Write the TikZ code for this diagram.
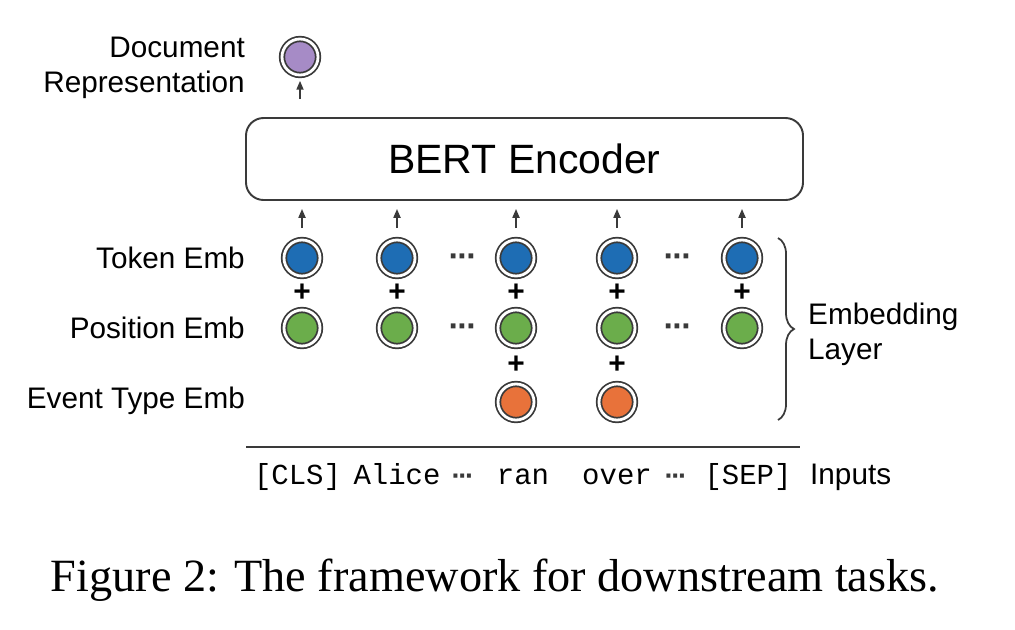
\documentclass[tikz,border=0pt]{standalone}
\usepackage{fontspec}
\setmainfont{Liberation Sans}
\setmonofont{Liberation Mono}
\newfontfamily\capfont{Liberation Serif}
\usepackage{tikz}
\usetikzlibrary{arrows.meta,positioning,decorations.pathreplacing}
\definecolor{embblue}{HTML}{1E6DB4}
\definecolor{embgreen}{HTML}{6BAD4B}
\definecolor{emborange}{HTML}{E8723A}
\definecolor{embpurple}{HTML}{A68BC6}
\definecolor{ringgray}{HTML}{3A3A3A}
\newcommand{\lblfont}{\fontsize{16.9}{20}\selectfont}
\newcommand{\mdots}[1]{\textbf{·\kern#1·\kern#1·}}

\begin{document}
\begin{tikzpicture}[
  emb/.style={circle, draw=ringgray, double=white, double distance=1.6pt,
    line width=1pt, minimum size=0.72cm, inner sep=0pt},
  lbl/.style={font=\lblfont, anchor=east},
  plus/.style={font=\fontsize{17}{17}\selectfont\bfseries, inner sep=0pt},
  rowdots/.style={font=\fontsize{19}{19}\selectfont, inner sep=0pt, anchor=north, ringgray},
  indots/.style={font=\fontsize{16}{16}\selectfont, inner sep=0pt, anchor=north, ringgray},
  word/.style={font=\fontsize{16.5}{17}\selectfont\ttfamily, anchor=base},
  arr/.style={-{Triangle[length=5pt,width=4pt]}, line width=0.9pt, ringgray}
]
  \useasboundingbox (0,0) rectangle (20.3,-12.58);

  % encoder and output
  \node[draw=ringgray, line width=1.1pt, rounded corners=10pt,
    minimum width=11.14cm, minimum height=1.64cm,
    font=\fontsize{23.3}{23}\selectfont] (enc) at (10.49,-3.18) {BERT Encoder};
  \node[emb, fill=embpurple] (doc) at (6.0,-1.14) {};
  \draw[arr, shorten <=0.36cm, shorten >=0.1cm] (enc.north -| doc) -- (doc);

  % embedding columns
  \foreach \i/\x in {1/6.04, 2/7.94, 3/10.32, 4/12.34, 5/14.84} {
    \node[emb, fill=embblue] (tok\i) at (\x,-5.16) {};
    \node[emb, fill=embgreen] (pos\i) at (\x,-6.56) {};
    \node[plus] at (\x,-5.86) {+};
    \draw[arr, shorten <=0.22cm, shorten >=0.16cm] (tok\i) -- (tok\i |- enc.south);
  }
  \foreach \i in {3,4} {
    \node[emb, fill=emborange] (evt\i) at (pos\i |- 0,-8.04) {};
    \node[plus] at (pos\i |- 0,-7.30) {+};
  }
  \foreach \x in {9.26, 13.56} {
    \node[rowdots] at (\x,-5.07) {\mdots{-1.3pt}};
    \node[rowdots] at (\x,-6.47) {\mdots{-1.3pt}};
  }

  % row labels
  \node[lbl, align=right] (doclbl) at (5.02,-1.35) {Document\\Representation};
  \node[lbl] (toklbl) at (5.02,-5.16) {Token Emb};
  \node[lbl] (poslbl) at (5.02,-6.56) {Position Emb};
  \node[lbl] (evtlbl) at (5.02,-8.02) {Event Type Emb};

  \draw[decorate, decoration={brace, amplitude=0.32cm}, line width=1pt, ringgray]
    (15.56,-4.76) -- (15.56,-8.4);
  \node[font=\lblfont, anchor=west, align=left] (emblbl) at (16.04,-6.68)
    {Embedding\\Layer};

  % inputs
  \draw[line width=1.1pt, ringgray] (4.92,-8.94) -- (16.0,-8.94);
  \node[word] (w1) at (5.95,-9.68) {[CLS]};
  \node[word] (w2) at (7.94,-9.68) {Alice};
  \node[word] (w3) at (10.46,-9.68) {ran};
  \node[word] (w4) at (12.34,-9.68) {over};
  \node[word] (w5) at (14.96,-9.68) {[SEP]};
  \node[indots] at (9.26,-9.48) {\mdots{-1.5pt}};
  \node[indots] at (13.52,-9.48) {\mdots{-1.5pt}};
  \node[font=\lblfont, anchor=base west] (inlbl) at (16.08,-9.68) {Inputs};

  \node[font=\capfont\fontsize{26.3}{28}\selectfont] (cap) at (9.9,-11.6)
    {Figure 2: The framework for downstream tasks.};
\end{tikzpicture}
\end{document}
